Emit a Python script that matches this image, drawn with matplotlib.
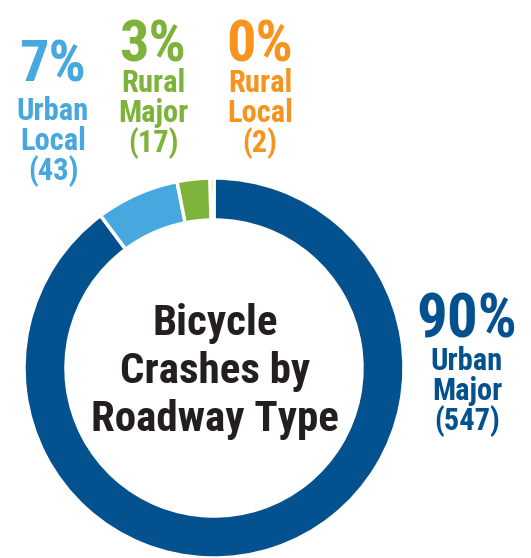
import matplotlib
matplotlib.use("Agg")
import matplotlib.pyplot as plt
from matplotlib import font_manager

categories = ["Urban Major", "Urban Local", "Rural Major", "Rural Local"]
counts = [547, 43, 17, 2]
percents = ["90%", "7%", "3%", "0%"]
colors = ["#03528F", "#46A8DE", "#7DB33A", "#F7941E"]
title_lines = ["Bicycle", "Crashes by", "Roadway Type"]

avail = {f.name for f in font_manager.fontManager.ttflist}
cands = ["Roboto Condensed", "Liberation Sans Narrow", "Roboto", "DejaVu Sans"]
fam = [c for c in cands if c in avail]

W, H = 531, 558
fig = plt.figure(figsize=(W / 100, H / 100), dpi=100)
ax = fig.add_axes([0, 0, 1, 1])

cx, cy, R, ring = 214, H - 368, 190, 42
ax.pie(counts, colors=colors, startangle=90, counterclock=False,
       center=(cx, cy), radius=R,
       wedgeprops=dict(width=ring, edgecolor="white", linewidth=2.5))
ax.set_xlim(0, W)
ax.set_ylim(0, H)
ax.set_aspect("equal")
ax.axis("off")


def T(x, y, s, size, color):
    ax.text(x, H - y, s, fontsize=size, color=color, ha="center", va="baseline",
            fontweight="bold", family=fam)


# label blocks: (x center, baseline of percent, first label baseline, percent size)
blocks = {
    "Urban Major": (467, 337, 370, 44),
    "Urban Local": (53, 82, 120, 42),
    "Rural Major": (153, 61, 92, 42),
    "Rural Local": (260, 61, 92, 42),
}
for cat, n, p, col in zip(categories, counts, percents, colors):
    x, pb, lb, ps = blocks[cat]
    T(x, pb, p, ps, col)
    w1, w2 = cat.split()
    T(x, lb, w1, 22, col)
    T(x, lb + 30, w2, 22, col)
    T(x, lb + 60, f"({n})", 22, col)

for i, line in enumerate(title_lines):
    T(215, 335 + 48 * i, line, 31, "#231F20")

fig.savefig("out.png", dpi=100)
